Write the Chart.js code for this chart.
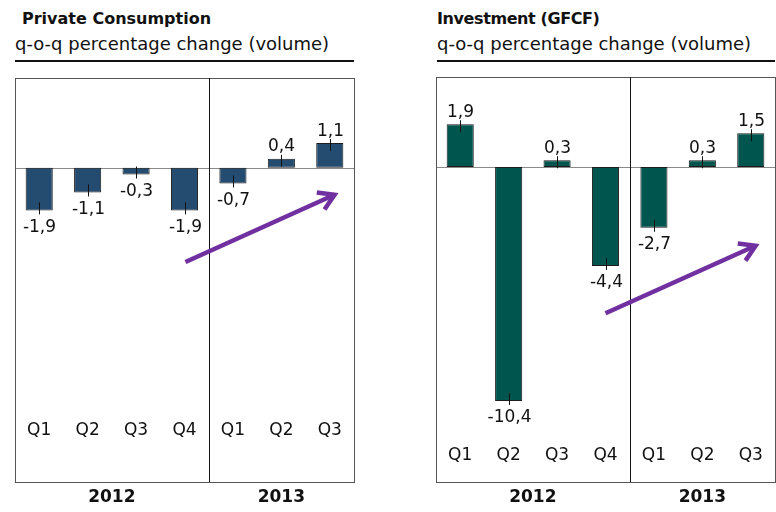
<!DOCTYPE html>
<html>
<head>
<meta charset="utf-8">
<script src="https://cdn.jsdelivr.net/npm/chart.js@4"></script>
<style>
  body { margin: 0; background: #fff; width: 776px; height: 512px; position: relative; overflow: hidden; font-family: "DejaVu Sans", sans-serif; }
  canvas { position: absolute; top: 0; }
  .ttl { position: absolute; font-size: 16px; font-weight: bold; color: #111; top: 9px; }
  .sub { position: absolute; font-size: 18px; color: #111; top: 33px; }
  .rule { position: absolute; top: 60px; height: 2px; background: #111; }
</style>
</head>
<body>
<div class="ttl" style="left:22px">Private Consumption</div>
<div class="sub" style="left:15px">q-o-q percentage change (volume)</div>
<div class="rule" style="left:15px;width:339px"></div>
<div class="ttl" style="left:437px;letter-spacing:-0.4px">Investment (GFCF)</div>
<div class="sub" style="left:437px">q-o-q percentage change (volume)</div>
<div class="rule" style="left:437px;width:338px"></div>
<canvas id="left" width="388" height="512" style="left:0"></canvas>
<canvas id="right" width="388" height="512" style="left:388px"></canvas>
<script>
const quarters = ["Q1", "Q2", "Q3", "Q4", "Q1", "Q2", "Q3"];
const years = ["2012", "2013"];
const yearStart = [0, 4];
const yearEnd = [3, 6];
const consumption = [-1.9, -1.1, -0.3, -1.9, -0.7, 0.4, 1.1];
const investment = [1.9, -10.4, 0.3, -4.4, -2.7, 0.3, 1.5];
const yMin = -14;
const yMax = 4;

const fmt = v => v.toFixed(1).replace(".", ",");

// frame, zero line, labels and the trend arrow
const decor = {
  id: "decor",
  beforeDatasetsDraw(chart) {
    const { ctx, chartArea: a, scales: { y } } = chart;
    ctx.save();
    const y0 = Math.round(y.getPixelForValue(0)) + 0.5;
    ctx.strokeStyle = "#8a8a8a";
    ctx.lineWidth = 1;
    ctx.beginPath();
    ctx.moveTo(a.left, y0);
    ctx.lineTo(a.right, y0);
    ctx.stroke();
    ctx.restore();
  },
  afterDatasetsDraw(chart, args, opts) {
    const { ctx, chartArea: a, scales: { x, y } } = chart;
    const vals = chart.data.datasets[0].data;
    ctx.save();
    // frame
    ctx.strokeStyle = "#555";
    ctx.lineWidth = 1;
    ctx.strokeRect(Math.round(a.left) + 0.5, Math.round(a.top) + 0.5, Math.round(a.right - a.left), Math.round(a.bottom - a.top));
    // year divider
    const xd = Math.round((x.getPixelForValue(3) + x.getPixelForValue(4)) / 2) + 0.5;
    ctx.strokeStyle = "#111";
    ctx.beginPath();
    ctx.moveTo(xd, a.top);
    ctx.lineTo(xd, a.bottom);
    ctx.stroke();
    // small marks at bar ends + value labels
    ctx.font = "17px 'DejaVu Sans'";
    ctx.textAlign = "center";
    ctx.textBaseline = "middle";
    ctx.fillStyle = "#111";
    vals.forEach((v, i) => {
      const px = Math.round(x.getPixelForValue(i)) + 0.5;
      const py = y.getPixelForValue(v);
      const s = v < 0 ? 1 : -1;
      ctx.strokeStyle = "#111";
      ctx.beginPath();
      ctx.moveTo(px, py - s * 8);
      ctx.lineTo(px, py + s * 4);
      ctx.stroke();
      ctx.fillText(fmt(v), px, v < 0 ? py + 17 : py - 12);
    });
    // quarter labels
    quarters.forEach((q, i) => {
      ctx.fillText(q, x.getPixelForValue(i), opts.qY);
    });
    // year labels
    ctx.font = "bold 17px 'DejaVu Sans'";
    years.forEach((yr, k) => {
      const cx = (x.getPixelForValue(yearStart[k]) + x.getPixelForValue(yearEnd[k])) / 2;
      ctx.fillText(yr, cx, 498);
    });
    // arrow
    const t = opts.arrow;
    const x1 = x.getPixelForValue(t[0]), y1 = y.getPixelForValue(t[1]);
    const x2 = x.getPixelForValue(t[2]), y2 = y.getPixelForValue(t[3]);
    const ang = Math.atan2(y2 - y1, x2 - x1);
    ctx.strokeStyle = "#7030a0";
    ctx.lineWidth = 4.5;
    ctx.lineCap = "butt";
    ctx.lineJoin = "miter";
    ctx.beginPath();
    ctx.moveTo(x1, y1);
    ctx.lineTo(x2 - 2 * Math.cos(ang), y2 - 2 * Math.sin(ang));
    ctx.stroke();
    const hl = 18;
    ctx.beginPath();
    ctx.moveTo(x2 - hl * Math.cos(ang - 0.55), y2 - hl * Math.sin(ang - 0.55));
    ctx.lineTo(x2, y2);
    ctx.lineTo(x2 - hl * Math.cos(ang + 0.55), y2 - hl * Math.sin(ang + 0.55));
    ctx.stroke();
    ctx.restore();
  }
};

function makeChart(id, values, color, pad, arrow, qY) {
  return new Chart(document.getElementById(id), {
    type: "bar",
    data: {
      labels: quarters,
      datasets: [{
        data: values,
        backgroundColor: color,
        borderColor: "#1c1c1c",
        borderWidth: 1,
        borderSkipped: false,
        barPercentage: 0.56,
        categoryPercentage: 1
      }]
    },
    options: {
      responsive: false,
      animation: false,
      layout: { padding: pad },
      scales: {
        x: { display: false, offset: true },
        y: { display: false, min: yMin, max: yMax }
      },
      plugins: {
        legend: { display: false },
        tooltip: { enabled: false },
        decor: { arrow: arrow, qY: qY }
      }
    },
    plugins: [decor]
  });
}

makeChart("left", consumption, "#244b70", { left: 15, right: 34, top: 78, bottom: 30 }, [3.02, -4.2, 6.1, -1.2], 431);
makeChart("right", investment, "#00564f", { left: 48, right: 1, top: 77, bottom: 30 }, [3.0, -6.5, 6.1, -3.5], 456);
</script>
</body>
</html>
